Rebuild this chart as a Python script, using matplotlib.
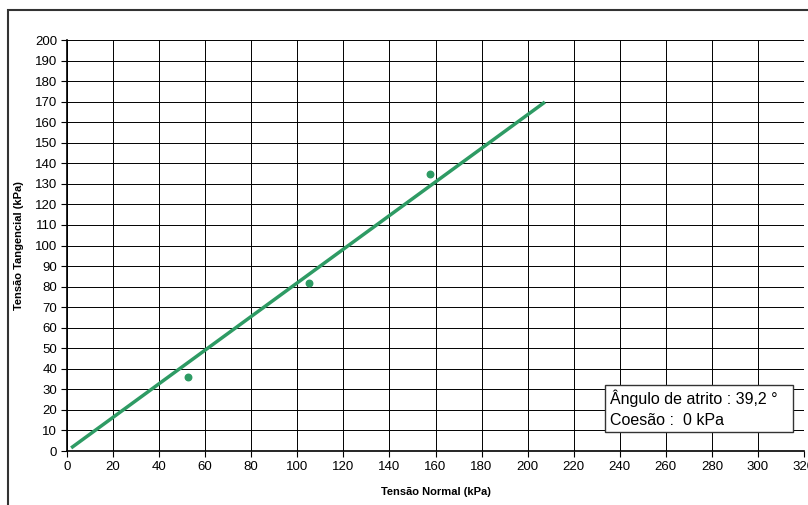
"""Envoltória de resistência ao cisalhamento (ensaio de cisalhamento direto)."""

import matplotlib
matplotlib.use("Agg")
import matplotlib.pyplot as plt
from matplotlib.patches import Rectangle

# Pontos do ensaio
tensao_normal = [52.5, 105.0, 157.5]
tensao_tangencial = [36.0, 81.8, 134.8]

# Reta de ajuste
reta_x = [1.8, 207.5]
reta_y = [1.5, 169.8]

angulo_atrito = "39,2"
coesao = "0"

x_ticks = list(range(0, 321, 20))
y_ticks = list(range(0, 201, 10))

verde = "#2e9b64"

plt.rcParams["font.family"] = ["Liberation Sans", "DejaVu Sans"]

fig = plt.figure(figsize=(8.08, 5.05), dpi=100)
ax = fig.add_axes([67 / 808, 1 - 451 / 505, 737 / 808, 411 / 505])

# Moldura externa da área do gráfico (cortada à direita e embaixo)
fig.patches.append(Rectangle((8 / 808, -0.1), 1.2, 1.1 - 10 / 505,
                             transform=fig.transFigure, fill=False,
                             edgecolor="#333333", linewidth=1.5))

ax.plot(reta_x, reta_y, color=verde, linewidth=2.5, solid_capstyle="butt")
ax.scatter(tensao_normal, tensao_tangencial, color=verde, s=22, zorder=3)

ax.set_xlim(0, 320)
ax.set_ylim(0, 200)
ax.set_xticks(x_ticks)
ax.set_yticks(y_ticks)
ax.tick_params(direction="out", length=4, width=0.8, labelsize=9.5,
               colors="black", pad=3)
ax.grid(True, color="black", linewidth=0.7)
ax.set_axisbelow(True)
for lado in ["top", "right"]:
    ax.spines[lado].set_visible(False)
for lado in ["left", "bottom"]:
    ax.spines[lado].set_linewidth(1.2)

ax.set_xlabel("Tensão Normal (kPa)", fontsize=8, fontweight="bold", labelpad=10)
ax.set_ylabel("Tensão Tangencial (kPa)", fontsize=8, fontweight="bold", labelpad=8)

# Caixa de resultados
ax.add_patch(Rectangle((0.730, 0.046), 0.255, 0.1146, transform=ax.transAxes,
                       facecolor="white", edgecolor="#333333", linewidth=1,
                       zorder=4))
ax.text(0.737, 0.1034,
        f"Ângulo de atrito : {angulo_atrito} °\nCoesão :  {coesao} kPa",
        transform=ax.transAxes, fontsize=11.5, va="center", ha="left",
        linespacing=1.5, zorder=5)

plt.savefig("out.png", dpi=100)
